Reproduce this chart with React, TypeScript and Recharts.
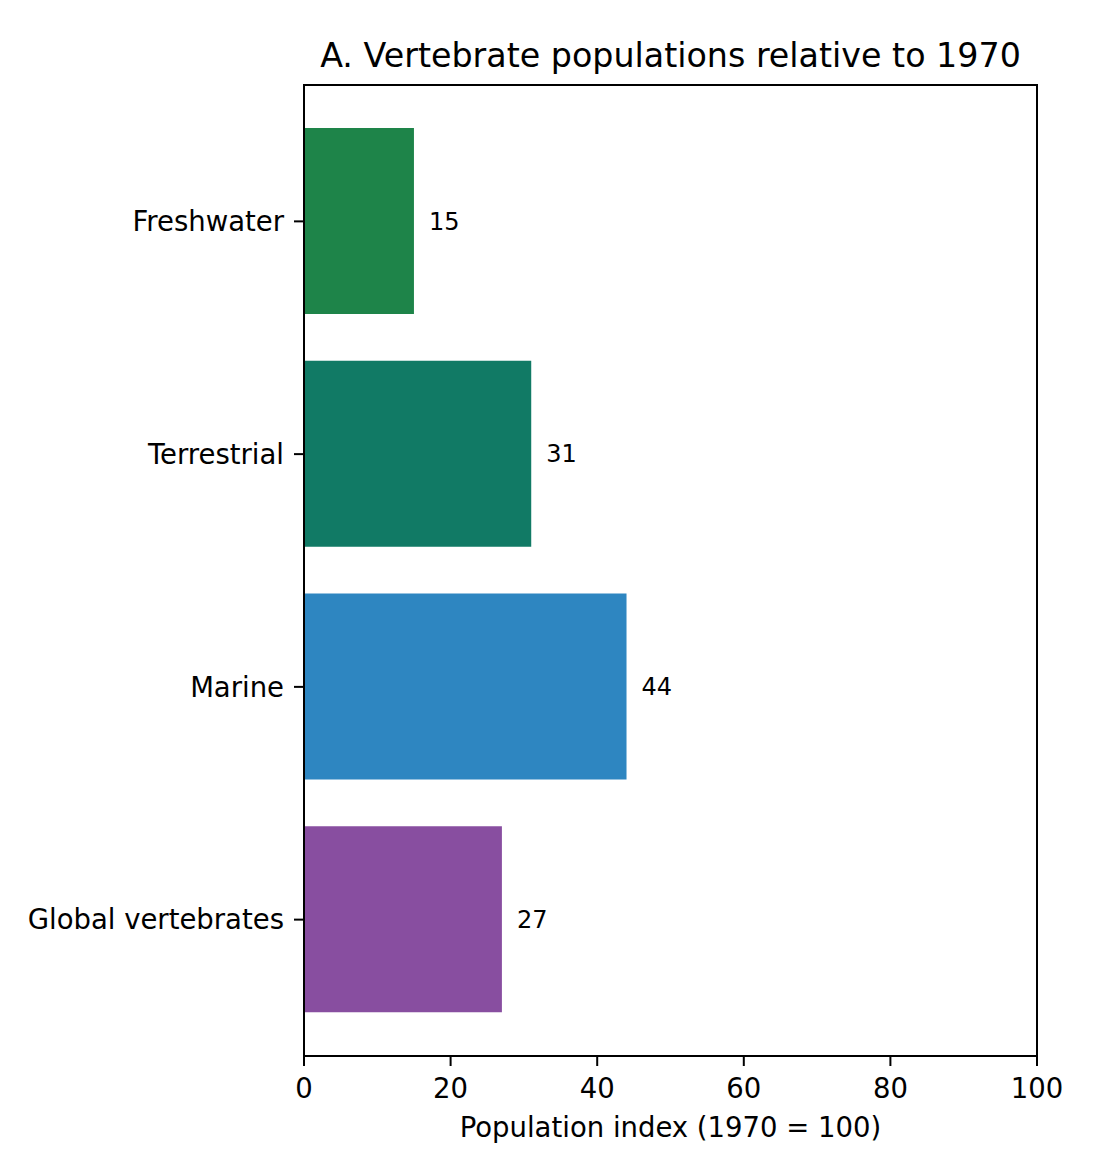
import React from 'react';
import { BarChart, Bar, XAxis, YAxis, Cell, LabelList } from 'recharts';

const categories = ['Freshwater', 'Terrestrial', 'Marine', 'Global vertebrates'];
const values = [15, 31, 44, 27];
const barColors = ['#1e8449', '#117a65', '#2e86c1', '#884ea0'];
const xTicks = [0, 20, 40, 60, 80, 100];

const data = categories.map((name, i) => ({ name, value: values[i] }));

const FONT = '"DejaVu Sans", sans-serif';
const W = 1105;
const H = 1153;
// plot box (matches chart margins + axis sizes)
const PL = 304;
const PT = 85;
const PR = 68;
const PB = 97;
const LINE = { stroke: '#000', strokeWidth: 2 };

export default function App() {
  return (
    <div style={{ position: 'absolute', left: 0, top: 0, width: W, height: H, background: '#fff', fontFamily: FONT }}>
      <BarChart
        width={W}
        height={H}
        data={data}
        layout="vertical"
        margin={{ top: PT, right: PR, left: 0, bottom: 0 }}
      >
        <XAxis
          type="number"
          domain={[0, 100]}
          ticks={xTicks}
          height={PB}
          axisLine={LINE}
          tickLine={LINE}
          tickSize={10}
          tickMargin={12}
          tick={{ fill: '#000', fontSize: 27.5, fontFamily: FONT }}
        />
        <YAxis
          type="category"
          dataKey="name"
          width={PL}
          padding={{ top: 20, bottom: 20 }}
          axisLine={LINE}
          tickLine={LINE}
          tickSize={10}
          tickMargin={10}
          tick={{ fill: '#000', fontSize: 27.5, fontFamily: FONT }}
        />
        <Bar dataKey="value" barSize={186} isAnimationActive={false}>
          {data.map((d, i) => (
            <Cell key={d.name} fill={barColors[i]} />
          ))}
          <LabelList
            dataKey="value"
            position="right"
            offset={15}
            fill="#000"
            fontSize={24}
            fontFamily={FONT}
          />
        </Bar>
      </BarChart>
      <svg
        width={W}
        height={H}
        style={{ position: 'absolute', left: 0, top: 0, pointerEvents: 'none' }}
      >
        <rect
          x={PL}
          y={PT}
          width={W - PL - PR}
          height={H - PT - PB}
          fill="none"
          stroke="#000"
          strokeWidth={2}
        />
        <text x={670.5} y={67} textAnchor="middle" fontSize={33.3} fontFamily={FONT} fill="#000">
          A. Vertebrate populations relative to 1970
        </text>
        <text x={670.5} y={1137} textAnchor="middle" fontSize={27.5} fontFamily={FONT} fill="#000">
          Population index (1970 = 100)
        </text>
      </svg>
    </div>
  );
}
